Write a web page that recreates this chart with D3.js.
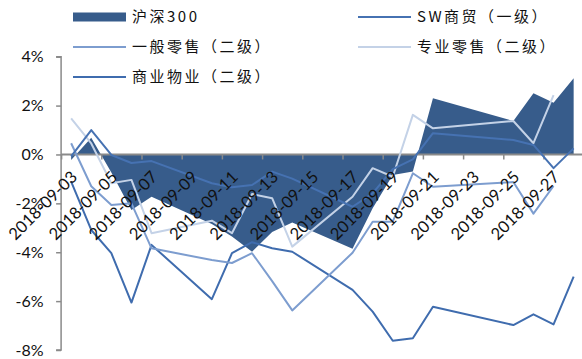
<!DOCTYPE html>
<html>
<head>
<meta charset="utf-8">
<script src="https://cdn.jsdelivr.net/npm/d3@7"></script>
<style>
  html, body { margin: 0; padding: 0; background: #fff; }
  svg { display: block; }
</style>
</head>
<body>
<svg id="chart" width="582" height="359"></svg>
<script>
// Trading days, September 2018
const dates = [
  "2018-09-03", "2018-09-04", "2018-09-05", "2018-09-06", "2018-09-07",
  "2018-09-10", "2018-09-11", "2018-09-12", "2018-09-13", "2018-09-14",
  "2018-09-17", "2018-09-18", "2018-09-19", "2018-09-20", "2018-09-21",
  "2018-09-25", "2018-09-26", "2018-09-27", "2018-09-28"
];

// Cumulative change, %
const hs300 = [
  -0.23, 0.68, -0.74, -2.27, -1.73,
  -2.84, -3.36, -3.98, -3.17, -2.78,
  -3.86, -2.2, -0.84, -0.7, 2.3,
  1.37, 2.5, 2.12, 3.12
];
const swShangmao = [
  -0.08, 1.0, -0.02, -0.35, -0.27,
  -1.18, -1.34, -1.25, -0.7, -0.99,
  -2.14, -1.59, -0.6, -0.2, 0.87,
  0.59, 0.39, -0.56, 0.25
];
const yibanLingshou = [
  0.46, -1.3, -2.07, -2.0, -3.84,
  -4.32, -4.44, -4.04, -5.18, -6.38,
  -4.02, -2.75, -2.75, -0.77, -1.32,
  -1.13, -2.42, -1.29, null
];
const zhuanyeLingshou = [
  1.48, 0.45, -1.18, -1.04, -3.22,
  -2.71, -3.22, -1.62, -1.79, -3.77,
  -1.73, -0.56, -0.91, 1.62, 1.07,
  1.37, 0.46, 2.43, null
];
const shangyeWuye = [
  -1.11, -3.09, -4.04, -6.06, -3.7,
  -5.92, -4.04, -3.59, -3.84, -3.98,
  -5.54, -6.43, -7.62, -7.52, -6.23,
  -6.98, -6.54, -6.95, -5.0
];

const yTicks = [4, 2, 0, -2, -4, -6, -8];
const seriesNames = ["沪深300", "SW商贸（一级）", "一般零售（二级）", "专业零售（二级）", "商业物业（二级）"];

const svg = d3.select("#chart");
const parse = d3.utcParse("%Y-%m-%d");
const fmtLabel = d3.utcFormat("%Y-%m-%d");
const days = dates.map(parse);

const start = d3.utcDay.floor(days[0]);
const end = d3.utcDay.offset(d3.utcDay.floor(days[days.length - 1]), 1);

const x = d3.scaleUtc().domain([start, end]).range([61.1, 583.7]);
const halfDay = (x(d3.utcDay.offset(start, 1)) - x(start)) / 2;
const xc = d => x(d) + halfDay;

const y = d3.scaleLinear().domain([-8, 4]).range([350, 56.7]);

const colors = {
  hs300: "#375c8b",
  sw: "#4672b2",
  yiban: "#7d9dcf",
  zhuanye: "#c4d2e7",
  wuye: "#3f6cae"
};

// Index area, filled from the zero line
const area = d3.area()
  .x((d, i) => xc(days[i]))
  .y0(y(0))
  .y1(d => y(d));

svg.append("path")
  .datum(hs300)
  .attr("d", area)
  .attr("fill", colors.hs300);

// Y axis
const yAxis = svg.append("g").attr("transform", `translate(${x(start)},0)`)
  .call(d3.axisLeft(y).tickValues(yTicks).tickSize(5).tickFormat(d => d + "%"));
yAxis.select(".domain").attr("stroke", "#8a8a8a").attr("stroke-width", 1.5)
  .attr("d", `M-5,${y(4)}H0V${y(-8)}H-5`);
yAxis.selectAll(".tick line").attr("stroke", "#8a8a8a").attr("stroke-width", 1.5);
yAxis.selectAll(".tick text")
  .attr("x", -17.5)
  .attr("fill", "#111")
  .style("font-family", "Lato, 'DejaVu Sans', sans-serif")
  .style("font-size", "16px");

// X axis along zero
const tickDays = d3.utcDay.every(2).range(start, end);
const xAxis = svg.append("g").attr("transform", `translate(0,${y(0)})`)
  .call(d3.axisBottom(x).tickValues(tickDays).tickSize(5).tickFormat(""));
xAxis.select(".domain").attr("stroke", "#8a8a8a").attr("stroke-width", 2)
  .attr("d", `M${x(start)},0H582`);
xAxis.selectAll(".tick line").attr("stroke", "#8a8a8a").attr("stroke-width", 1.5);

// Series lines
const line = d3.line()
  .defined(d => d !== null)
  .x((d, i) => xc(days[i]))
  .y(d => y(d));

const lineSeries = [
  { values: shangyeWuye, color: colors.wuye },
  { values: yibanLingshou, color: colors.yiban },
  { values: zhuanyeLingshou, color: colors.zhuanye },
  { values: swShangmao, color: colors.sw }
];
lineSeries.forEach(s => {
  svg.append("path")
    .datum(s.values)
    .attr("d", line)
    .attr("fill", "none")
    .attr("stroke", s.color)
    .attr("stroke-width", 2)
    .attr("stroke-linejoin", "round");
});

// Date labels, rotated
svg.append("g").selectAll("text")
  .data(tickDays.filter(d => d < d3.utcDay.offset(end, -1)))
  .join("text")
  .attr("transform", d => `translate(${xc(d) + 3},174) rotate(-45)`)
  .attr("text-anchor", "end")
  .attr("dy", "0.35em")
  .attr("fill", "#111")
  .style("font-family", "Lato, 'DejaVu Sans', sans-serif")
  .style("font-size", "16.5px")
  .text(d => fmtLabel(d));

// Legend
const legendItems = [
  { name: seriesNames[0], color: colors.hs300, type: "rect", lx: 73, ly: 17 },
  { name: seriesNames[1], color: colors.sw, type: "line", lx: 358, ly: 17 },
  { name: seriesNames[2], color: colors.yiban, type: "line", lx: 73, ly: 47 },
  { name: seriesNames[3], color: colors.zhuanye, type: "line", lx: 358, ly: 47 },
  { name: seriesNames[4], color: colors.wuye, type: "line", lx: 73, ly: 77 }
];
const legend = svg.append("g");
legendItems.forEach(it => {
  const g = legend.append("g").attr("transform", `translate(${it.lx},${it.ly})`);
  if (it.type === "rect") {
    g.append("rect").attr("x", 0).attr("y", -4.5).attr("width", 53).attr("height", 9).attr("fill", it.color);
  } else {
    g.append("line").attr("x1", 0).attr("x2", 53).attr("y1", 0).attr("y2", 0)
      .attr("stroke", it.color).attr("stroke-width", 2);
  }
  g.append("text")
    .attr("x", 59)
    .attr("dy", "0.35em")
    .attr("fill", "#111")
    .style("font-family", "'Noto Sans CJK SC', sans-serif")
    .style("font-size", "15px")
    .style("letter-spacing", "2.5px")
    .text(it.name);
});
</script>
</body>
</html>
